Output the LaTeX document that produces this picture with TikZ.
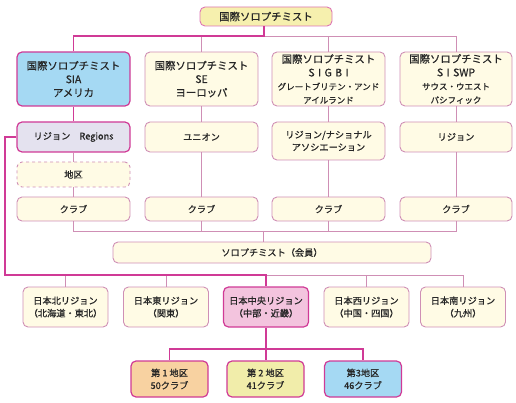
\documentclass[tikz,border=0pt]{standalone}
\usepackage{fontspec}
\setmainfont{Noto Sans CJK JP}[FakeBold=0.7]
\setsansfont{Noto Sans CJK JP}
\definecolor{cream}{HTML}{FFFBE5}
\definecolor{pinkL}{HTML}{CF8FB5}
\definecolor{mag}{HTML}{D03A96}
\definecolor{blueF}{HTML}{A5D9F3}
\definecolor{lavF}{HTML}{E4E2EF}
\definecolor{yelF}{HTML}{F6F0AE}
\definecolor{pinkF}{HTML}{F3C4DE}
\definecolor{oraF}{HTML}{F8D2A1}
\definecolor{yel2F}{HTML}{F1EDAA}
\newcommand{\fbig}{\fontsize{10.4}{13.5}\selectfont}
\newcommand{\fmid}{\fontsize{9.2}{12.5}\selectfont}
\newcommand{\fsml}{\fontsize{8.5}{10.5}\selectfont}
\tikzset{
  box/.style={rounded corners=5pt, align=center, inner sep=0pt, draw=pinkL, fill=cream, line width=0.9pt, text=black!85},
  hot/.style={draw=mag, line width=1.2pt},
  liteline/.style={draw=pinkL, line width=0.9pt},
  hotline/.style={draw=mag, line width=1.6pt},
}
\begin{document}
\begin{tikzpicture}[x=1pt,y=-1pt]
\useasboundingbox (0,0) rectangle (516,403);
% nodes
\node[box, draw=mag!70, fill=yelF, minimum width=132pt, minimum height=19pt, font=\fbig] (top) at (266,16.5) {国際ソロプチミスト};

\node[box, hot, fill=blueF, minimum width=113pt, minimum height=54pt, font=\fbig] (sia) at (73.5,79) {国際ソロプチミスト\\SIA\\アメリカ};
\node[box, minimum width=113pt, minimum height=54pt, font=\fbig] (se) at (201.5,79) {国際ソロプチミスト\\SE\\ヨーロッパ};
\node[box, minimum width=113pt, minimum height=54pt, font=\fbig] (sigbi) at (328.5,79) {国際ソロプチミスト\\S\,\,I\,\,G\,\,B\,\,I\\\fsml グレートブリテン・アンド\\\fsml アイルランド};
\node[box, minimum width=112pt, minimum height=54pt, font=\fbig] (swp) at (456,79) {国際ソロプチミスト\\S\,\,I\,\,SWP\\\fsml サウス・ウエスト\\\fsml パシフィック};

\node[box, hot, fill=lavF, minimum width=113pt, minimum height=30pt, font=\fmid] (reg) at (73.5,137) {リジョン\quad Regions};
\node[box, minimum width=113pt, minimum height=30pt, font=\fmid] (uni) at (201.5,137) {ユニオン};
\node[box, minimum width=113pt, minimum height=38pt, font=\fmid] (rna) at (328.5,141) {リジョン/ナショナル\\アソシエーション};
\node[box, minimum width=112pt, minimum height=30pt, font=\fmid] (swpr) at (456,137) {リジョン};

\node[box, dashed, minimum width=113pt, minimum height=25pt, font=\fmid] (dist) at (73.5,174.5) {地区};

\node[box, minimum width=113pt, minimum height=24pt, font=\fmid] (c1) at (73.5,209) {クラブ};
\node[box, minimum width=113pt, minimum height=24pt, font=\fmid] (c2) at (201.5,209) {クラブ};
\node[box, minimum width=113pt, minimum height=24pt, font=\fmid] (c3) at (328.5,209) {クラブ};
\node[box, minimum width=112pt, minimum height=24pt, font=\fmid] (c4) at (456,209) {クラブ};

\node[box, minimum width=318pt, minimum height=21pt, font=\fmid] (mem) at (272,252.5) {ソロプチミスト（会員）};

\node[box, minimum width=85pt, minimum height=40pt, font=\fmid] (jn) at (65.5,307) {日本北リジョン\\（北海道・東北）};
\node[box, minimum width=85pt, minimum height=40pt, font=\fmid] (je) at (166,307) {日本東リジョン\\（関東）};
\node[box, hot, fill=pinkF, minimum width=85pt, minimum height=40pt, font=\fmid] (jc) at (266,307) {日本中央リジョン\\（中部・近畿）};
\node[box, minimum width=85pt, minimum height=40pt, font=\fmid] (jw) at (366.5,307) {日本西リジョン\\（中国・四国）};
\node[box, minimum width=85pt, minimum height=40pt, font=\fmid] (js) at (463,307) {日本南リジョン\\（九州）};

\node[box, hot, fill=oraF, minimum width=77pt, minimum height=36pt, font=\fmid] (d1) at (169.5,379) {第 1 地区\\50クラブ};
\node[box, hot, fill=yel2F, minimum width=77pt, minimum height=36pt, font=\fmid] (d2) at (265.5,379) {第 2 地区\\41クラブ};
\node[box, hot, fill=blueF, minimum width=77pt, minimum height=36pt, font=\fmid] (d3) at (363,379) {第3地区\\46クラブ};

% junction coordinates
\coordinate (j1) at (264,36);
\coordinate (j2) at (263,231);
\coordinate (jl) at (5,137);
\coordinate (j3) at (266,275);
\coordinate (j4) at (266,349);

% light connectors
\draw[liteline] (j1) -| (se.north);
\draw[liteline] (j1) -| (sigbi.north);
\draw[liteline] (j1) -| (swp.north);
\draw[liteline] (reg) -- (dist);
\draw[liteline] (dist) -- (c1);
\draw[liteline] (se) -- (uni);
\draw[liteline] (uni) -- (c2);
\draw[liteline] (sigbi) -- (rna);
\draw[liteline] (rna) -- (c3);
\draw[liteline] (swp) -- (swpr);
\draw[liteline] (swpr) -- (c4);
\draw[liteline] (c1.south) |- (j2);
\draw[liteline] (c4.south) |- (j2);
\draw[liteline] (c2) -- (c2.south |- j2);
\draw[liteline] (c3) -- (c3.south |- j2);
\draw[liteline] (j2) -- (j2 |- mem.north);
\draw[liteline] (j3) -| (jw.north);
\draw[liteline] (j3) -| (js.north);
\draw[liteline] (jn.north) -- (jn.north |- j3);
\draw[liteline] (je.north) -- (je.north |- j3);

% hot connectors
\draw[hotline] (top.south -| j1) -- (j1) -| (sia.north);
\draw[hotline] (sia) -- (reg);
\draw[hotline] (reg.west) -- (jl) |- (j3) -- (jc.north);
\draw[hotline] (jc.south) -- (j4);
\draw[hotline] (d1.north) |- (j4) -| (d3.north);
\draw[hotline] (j4) -- (d2.north -| j4);
\end{tikzpicture}
\end{document}
